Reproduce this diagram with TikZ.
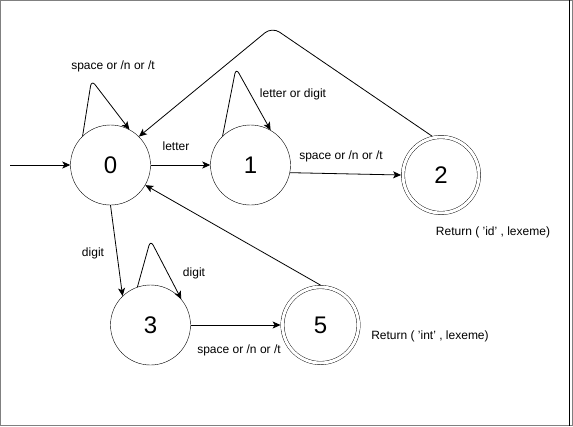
\documentclass[tikz,border=0pt]{standalone}
\usepackage{fontspec}
\setmainfont{Liberation Sans}
\usepackage{tikz}
\usetikzlibrary{calc,arrows.meta}

\begin{document}
\begin{tikzpicture}[x=1pt,y=-1pt,
  state/.style={draw,circle,minimum size=80pt,inner sep=0pt,font=\fontsize{24}{28}\selectfont},
  accept/.style={state,minimum size=76pt,double,double distance=3pt,outer sep=1.9pt},
  lbl/.style={font=\fontsize{12}{14}\selectfont,inner sep=0pt},
  tr/.style={-{Stealth[length=8pt,width=7pt,inset=2pt]},line width=0.8pt},
  loopy/.style={tr,rounded corners=6pt}]
\useasboundingbox (0,0) rectangle (573,426);
\draw [gray,line width=1pt] (0.5,0.5) rectangle (572.5,425.5);
\draw [line width=1pt] (569.5,0) -- (569.5,426);
% states
\node [state] (s0) at (110.5,165) {0};
\node [state] (s1) at (250.5,165) {1};
\node [accept] (s2) at (441,175) {2};
\node [state] (s3) at (150.5,325) {3};
\node [accept] (s5) at (320.5,325) {5};
\coordinate (in) at (10,165);
% transitions
\draw [tr] (in) -- (s0.west);
\draw [tr] (s0.east) -- (s1.west);
\draw [tr] (s1.-11) -- (s2.west);
\draw [tr] (s0.south) -- (s3.134);
\draw [tr] (s3.east) -- (s5.west);
\draw [tr] (s5.north) -- (s0.-30);
\draw [tr,rounded corners=9pt] (s2.103) -- (272,27) -- (s0.45);
\draw [loopy] (s0.134) -- ($(s0)+(-19,-85)$) -- (s0.62);
\draw [loopy] (s1.134) -- ($(s1)+(-14.5,-97)$) -- (s1.60);
\draw [loopy] (s3.109) -- ($(s3)+(0,-85)$) -- (s3.40);
% labels
\node [lbl] (l00) at (113,66) {space or /n or /t};
\node [lbl] (l11) at (293,94) {letter or digit};
\node [lbl] (l01) at (176,146) {letter};
\node [lbl] (l12) at (341,156) {space or /n or /t};
\node [lbl] (l03) at (93,253) {digit};
\node [lbl] (l33) at (194,273) {digit};
\node [lbl] (l35) at (239,350) {space or /n or /t};
\node [lbl] (r2) at (493,232) {Return ( 'id' , lexeme)};
\node [lbl] (r5) at (430,336) {Return ( 'int' , lexeme)};
\end{tikzpicture}
\end{document}
